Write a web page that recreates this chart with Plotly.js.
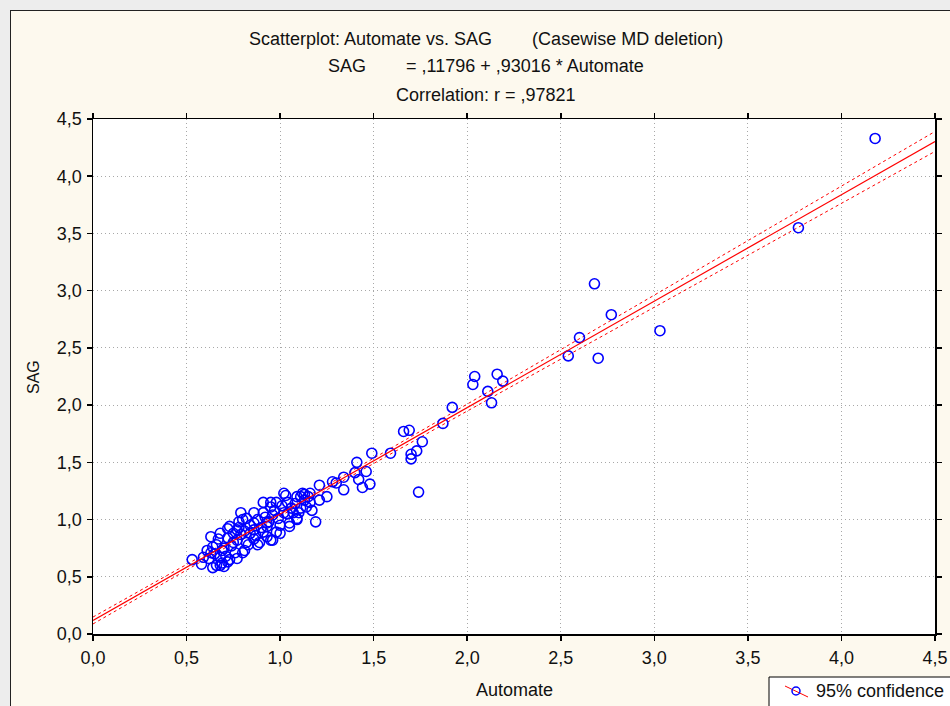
<!DOCTYPE html>
<html>
<head>
<meta charset="utf-8">
<script src="https://cdn.plot.ly/plotly-3.0.1.min.js"></script>
<style>
  html, body { margin:0; padding:0; width:950px; height:706px; overflow:hidden; background:#ededed; }
  #frame { position:absolute; left:10px; top:10px; width:945px; height:700px; border:1px solid #222; background:#fdf9ee; }
  #chart { position:absolute; left:0; top:0; width:945px; height:700px; }
</style>
</head>
<body>
<div id="frame"><div id="chart"></div></div>
<script>
// Data
const automate = [
  4.18, 3.77, 3.03, 2.68, 2.77, 2.60, 2.70, 2.54, 2.04, 2.03,
  2.16, 2.19, 2.11, 2.13, 1.92, 1.87, 1.66, 1.69, 1.76, 1.73,
  1.70, 1.70, 1.59, 1.49, 1.48, 1.74, 1.41, 1.46, 1.40, 1.42,
  1.44, 1.34, 1.28, 1.21, 1.34, 1.25, 1.12, 1.09, 1.16, 1.21,
  1.11, 1.17, 1.07, 1.09, 1.19, 1.02, 1.13, 1.04, 0.98, 0.95,
  0.91, 1.02, 0.96, 0.91, 0.86, 0.79, 0.80, 0.86, 0.93, 1.00,
  1.05, 1.14, 0.77, 0.84, 0.91, 0.98, 0.96, 0.89, 0.82, 0.77,
  0.82, 0.78, 0.73, 0.68, 0.63, 0.64, 0.61, 0.59, 0.68, 0.66,
  0.72, 0.76, 0.80, 0.83, 0.86, 0.75, 0.72, 0.79, 0.86, 0.88,
  0.64, 0.70, 0.53, 0.58, 1.03, 1.16, 1.30, 1.09, 0.93, 1.05,
  0.95, 0.73, 0.77, 0.69, 0.63, 0.69, 0.95, 1.11,
  0.65, 0.66, 0.67, 0.70, 0.71, 0.74, 0.75, 0.78, 0.81, 0.84,
  0.87, 0.90, 0.92, 0.94, 0.97, 0.99, 1.01, 1.04, 1.06, 1.08,
  1.10, 1.13, 1.15, 1.00, 0.88, 0.93, 0.81, 0.72, 0.62, 0.68
];
const sag = [
  4.33, 3.55, 2.65, 3.06, 2.79, 2.59, 2.41, 2.43, 2.25, 2.18,
  2.27, 2.21, 2.12, 2.02, 1.98, 1.84, 1.77, 1.78, 1.68, 1.60,
  1.57, 1.53, 1.58, 1.58, 1.31, 1.24, 1.50, 1.42, 1.41, 1.35,
  1.28, 1.37, 1.33, 1.30, 1.26, 1.20, 1.23, 1.20, 1.15, 1.17,
  1.10, 1.08, 1.06, 1.00, 0.98, 1.23, 1.22, 1.15, 1.15, 1.11,
  1.15, 1.06, 1.04, 1.06, 1.06, 1.06, 1.00, 0.97, 0.97, 0.95,
  0.97, 1.11, 0.91, 0.88, 0.89, 0.89, 0.82, 0.80, 0.80, 0.82,
  1.01, 0.98, 0.94, 0.88, 0.85, 0.76, 0.73, 0.67, 0.67, 0.60,
  0.63, 0.71, 0.71, 0.78, 0.83, 0.80, 0.84, 0.87, 0.91, 1.00,
  0.58, 0.59, 0.65, 0.61, 1.21, 1.23, 1.32, 1.01, 0.94, 0.94,
  0.82, 0.65, 0.66, 0.62, 0.71, 0.73, 1.15, 1.20,
  0.70, 0.78, 0.83, 0.75, 0.68, 0.77, 0.88, 0.93, 0.90, 0.95,
  0.86, 0.93, 1.02, 0.98, 1.08, 1.01, 1.12, 1.05, 1.10, 1.14,
  1.06, 1.17, 1.20, 0.88, 0.78, 0.85, 0.73, 0.92, 0.66, 0.60
];
const intercept = 0.11796;
const slope = 0.93016;
// confidence band shape: half-width = sqrt(bandA + bandB*(x-bandXbar)^2)
const bandA = 0.000324, bandB = 0.000592, bandXbar = 1.0;
const tickVals = [0, 0.5, 1, 1.5, 2, 2.5, 3, 3.5, 4, 4.5];
const tickText = ["0,0","0,5","1,0","1,5","2,0","2,5","3,0","3,5","4,0","4,5"];
const legendLabel = "95% confidence";

const lineX = [];
for (let i = 0; i <= 90; i++) lineX.push(i * 0.05);
const fitY = lineX.map(x => intercept + slope * x);
const hw = lineX.map(x => Math.sqrt(bandA + bandB * (x - bandXbar) * (x - bandXbar)));
const upY = fitY.map((y, i) => y + hw[i]);
const loY = fitY.map((y, i) => y - hw[i]);

const F = "Liberation Sans, Arial, sans-serif";
const TXT = "#111111";

// plot-area geometry in div pixels
const L = 82, T = 108, PW = 842, PH = 515;
const px = v => (v - L) / PW;          // div x -> paper x
const py = v => (T + PH - v) / PH;     // div y -> paper y

const traces = [
  { x: lineX, y: upY, mode: "lines", line: { color: "#ff0000", width: 1, dash: "3px,3px" }, hoverinfo: "skip" },
  { x: lineX, y: loY, mode: "lines", line: { color: "#ff0000", width: 1, dash: "3px,3px" }, hoverinfo: "skip" },
  { x: automate, y: sag, mode: "markers",
    marker: { symbol: "circle-open", size: 10, color: "#0000ff", line: { width: 1.6, color: "#0000ff" } } },
  { x: lineX, y: fitY, mode: "lines", line: { color: "#ff0000", width: 1.2 }, hoverinfo: "skip" }
];

const axisCommon = {
  range: [0, 4.5], tickvals: tickVals, ticktext: tickText,
  showline: true, linecolor: "#000", linewidth: 1.5, mirror: "allticks",
  ticks: "outside", ticklen: 5, tickcolor: "#000", tickwidth: 1.5,
  showgrid: true, gridcolor: "#a8a8a8", griddash: "1px,3px", gridwidth: 1,
  zeroline: false, tickfont: { family: F, size: 18, color: TXT }, fixedrange: true
};

const tfont = { family: F, size: 18, color: TXT };
const NB = "\u00a0";

const layout = {
  width: 945, height: 700,
  margin: { l: L, r: 945 - L - PW, t: T, b: 700 - T - PH },
  paper_bgcolor: "#fdf9ee", plot_bgcolor: "#ffffff",
  font: { family: F, size: 18, color: TXT },
  showlegend: false,
  xaxis: Object.assign({}, axisCommon, { ticklabelstandoff: 2 }),
  yaxis: Object.assign({}, axisCommon, { ticklabelstandoff: 1 }),
  shapes: [
    { type: "rect", xref: "paper", yref: "paper", x0: px(758), x1: px(1000), y0: py(666), y1: py(760),
      line: { color: "#000", width: 1 }, fillcolor: "#ffffff", layer: "above" },
    { type: "line", xref: "paper", yref: "paper", x0: px(774), y0: py(675), x1: px(797), y1: py(686),
      line: { color: "#ff0000", width: 1 }, layer: "above" },
    { type: "circle", xref: "paper", yref: "paper", xsizemode: "pixel", ysizemode: "pixel",
      xanchor: px(785), yanchor: py(680), x0: -4, x1: 4, y0: -4, y1: 4,
      line: { color: "#0000ff", width: 1.5 }, fillcolor: "rgba(0,0,0,0)", layer: "above" }
  ],
  annotations: [
    { text: "Scatterplot: Automate vs. SAG" + NB.repeat(8) + "(Casewise MD deletion)",
      xref: "paper", yref: "paper", x: 0.467, y: 1.155, xanchor: "center", yanchor: "middle", showarrow: false, font: tfont },
    { text: "SAG" + NB.repeat(8) + "= ,11796 + ,93016 * Automate",
      xref: "paper", yref: "paper", x: 0.467, y: 1.103, xanchor: "center", yanchor: "middle", showarrow: false, font: tfont },
    { text: "Correlation: r = ,97821",
      xref: "paper", yref: "paper", x: 0.467, y: 1.046, xanchor: "center", yanchor: "middle", showarrow: false, font: tfont },
    { text: "Automate", xref: "paper", yref: "paper", x: 0.5, y: -0.108, xanchor: "center", yanchor: "middle",
      showarrow: false, font: tfont },
    { text: "SAG", xref: "paper", yref: "paper", x: -0.0713, y: 0.499, xanchor: "center", yanchor: "middle",
      textangle: -90, showarrow: false, font: { family: F, size: 16, color: TXT } },
    { text: legendLabel, xref: "paper", yref: "paper", x: px(803), y: py(680), xanchor: "left", yanchor: "middle",
      showarrow: false, font: tfont }
  ]
};

Plotly.newPlot("chart", traces, layout, { displayModeBar: false, staticPlot: true });
</script>
</body>
</html>
